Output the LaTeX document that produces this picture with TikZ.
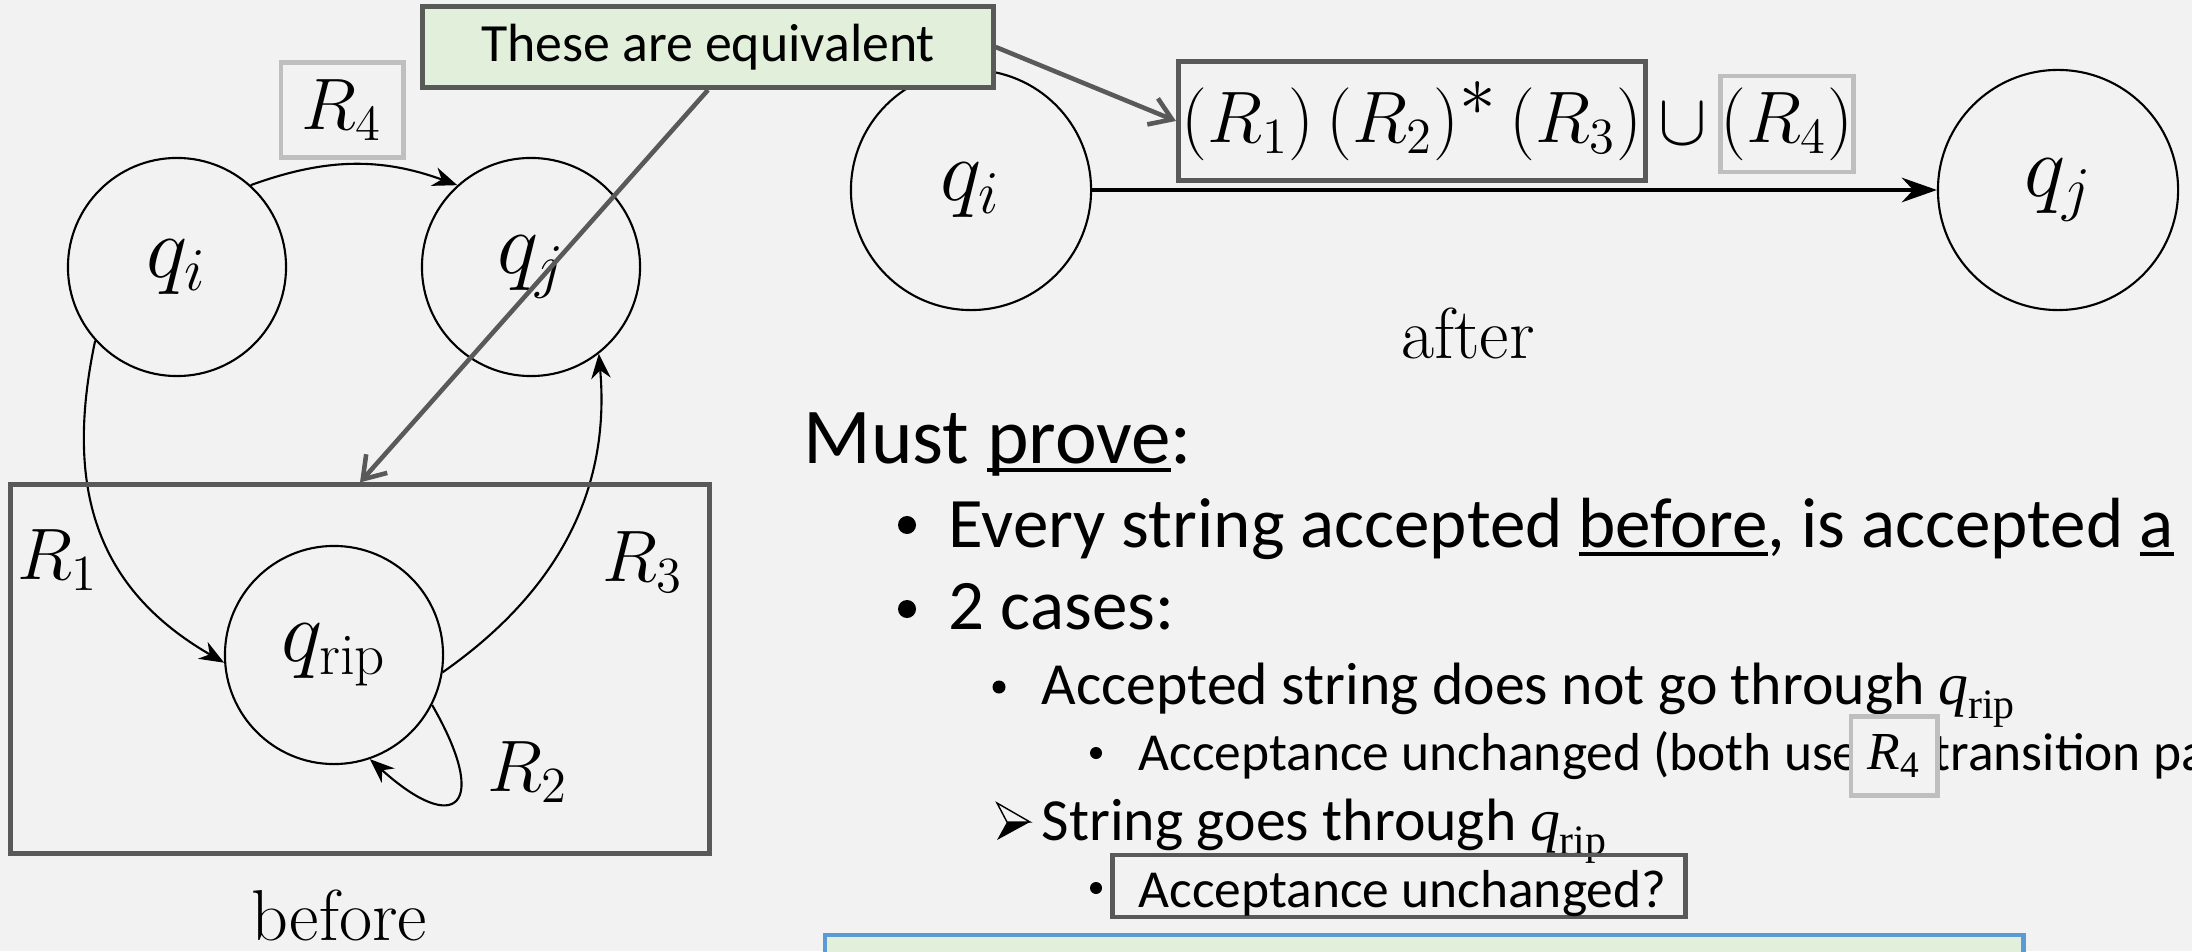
\documentclass[tikz,border=0pt]{standalone}
\usepackage{amsmath}
\usepackage{fontspec}
\newfontfamily\slidefont{Carlito}
\newfontfamily\timesfont{Liberation Serif}
\usepackage{tikz}
\usetikzlibrary{arrows.meta,positioning,calc}

\definecolor{slidebg}{HTML}{F2F2F2}
\definecolor{boxgray}{HTML}{595959}
\definecolor{hilite}{HTML}{BFBFBF}
\definecolor{notegreen}{HTML}{E2EFDA}
\definecolor{noteblue}{HTML}{5B9BD5}

% underline that sits just below the baseline
\newcommand{\undl}[1]{\sbox0{#1}\rlap{\rule[-0.12em]{\wd0}{0.055em}}\usebox0}
\newcommand{\qrip}{$\text{\timesfont\itshape q}_{\text{\timesfont rip}}$}
\newcommand{\Rfour}{$\text{\timesfont\itshape R}_{\text{\timesfont 4}}$}

\begin{document}
\begin{tikzpicture}[x=0.01cm, y=0.01cm,
    state/.style={circle, draw, line width=0.6pt, minimum size=2.18cm, inner sep=0pt, font=\fontsize{24}{24}\selectfont},
    bigstate/.style={state, minimum size=2.4cm, font=\fontsize{25.5}{25.5}\selectfont},
    trans/.style={line width=0.6pt, -{Stealth[length=7pt,width=5.5pt]}},
    edgelab/.style={font=\fontsize{21.5}{21.5}\selectfont, inner sep=0pt},
    caption/.style={font=\fontsize{20.5}{20.5}\selectfont, inner sep=0pt, anchor=base},
    exprfont/.style={font=\fontsize{19.3}{19.3}\selectfont},
    darkbox/.style={draw=boxgray, line width=1.4pt},
    greybox/.style={draw=hilite, line width=1.4pt},
    pointer/.style={draw=boxgray, line width=1.3pt, -{Straight Barb[length=6pt,width=8pt]}},
    slidetext/.style={font=\slidefont\fontsize{#1}{#1}\selectfont, inner sep=0pt, anchor=base west},
    bulletdot/.style={circle, fill, inner sep=0pt, minimum size=#1}
  ]
  \useasboundingbox (0,0) rectangle (2192,951);
  \clip (0,0) rectangle (2192,951);
  \fill[slidebg] (0,0) rectangle (2192,951);

  % before
  \node[state] (qi) at (177,684) {$q_i$};
  \node[state] (qj) at (531,684) {$q_j$};
  \node[state] (qrip) at (334,296) {$q_{\text{rip}}$};

  \draw[trans] (qi.48) to[bend left=20] (qj.132);
  \node[greybox, edgelab, minimum width=1.22cm, minimum height=0.95cm] (r4) at (342,841) {$R_4$};
  \draw[trans] (qi.222) to[out=258,in=150,looseness=1.1] (qrip.184);
  \draw[trans] (qrip.351) to[out=35,in=275] (qj.308);
  \draw[trans] (qrip.333) to[out=-60,in=-42,looseness=3.6] (qrip.289);
  \node[edgelab] (r1) at (58,391) {$R_1$};
  \node[edgelab] (r3) at (643,389) {$R_3$};
  \node[edgelab] (r2) at (528,179) {$R_2$};

  \node[darkbox, minimum width=6.98cm, minimum height=3.68cm] (ripbox) at (360,282) {};
  \node[caption] (before) at (339,11) {before};

  % after
  \node[bigstate] (qiA) at (971,761) {$q_i$};
  \node[bigstate] (qjA) at (2058,761) {$q_j$};
  \draw[line width=0.9pt, -{Stealth[length=10pt,width=7pt]}] (qiA) -- (qjA);
  \node[darkbox, exprfont, minimum width=4.67cm, minimum height=1.19cm, inner sep=0pt] (expr) at (1412,830) {$(R_1)\,(R_2)^{\textstyle *}\,(R_3)$};
  \node[exprfont, inner sep=0pt] (cup) at (1683,827) {$\cup$};
  \node[greybox, exprfont, minimum width=1.25cm, minimum height=0.96cm, inner sep=0pt] (r4A) at (1787,827) {$(R_4)$};
  \node[caption] (after) at (1468,593) {after};

  % note with pointers
  \node[draw=boxgray, fill=notegreen, line width=1.4pt, minimum width=5.7cm, minimum height=0.81cm,
    font=\slidefont\fontsize{15.3}{15.3}\selectfont] (equiv) at (708,904) {These are equivalent};
  \draw[pointer] (equiv.south) -- (ripbox.north);
  \draw[pointer] (equiv.east) -- (expr.west);

  % proof outline
  \node[slidetext=22.5] (must) at (803,488) {Must \undl{prove}:};
  \node[bulletdot=0.18cm] (b1) at (907,426) {};
  \node[slidetext=20.2] (line1) at (948,404) {Every string accepted \undl{before}, is accepted \undl{a}};
  \node[bulletdot=0.18cm] (b2) at (907,342) {};
  \node[slidetext=20.2] (line2) at (948,322) {2 cases:};
  \node[bulletdot=0.13cm] (b3) at (999,264) {};
  \node[slidetext=17] (line3) at (1041,247) {Accepted string does not go through \qrip};
  \node[bulletdot=0.12cm] (b4) at (1096,198) {};
  \node[slidetext=15.2] (line4) at (1138,181) {Acceptance unchanged (both use};
  \node[slidetext=15.2] (line4b) at (1932,181) {transition pa};
  \node[greybox, fill=slidebg, minimum width=0.86cm, minimum height=0.79cm, inner sep=0pt,
    font=\fontsize{15.2}{15.2}\selectfont] (r4B) at (1894,195) {\Rfour};
  % arrowhead bullet
  \draw[line width=0.4pt, line join=miter] (997,148) -- (1030,129) -- (1007,129) -- cycle;
  \fill (1007,129) -- (1030,129) -- (997,111) -- cycle;
  \node[slidetext=17] (line5) at (1041,111) {String goes through \qrip};
  \node[bulletdot=0.12cm] (b6) at (1096,63) {};
  \node[darkbox, minimum width=5.72cm, minimum height=0.62cm] (qbox) at (1399,65) {};
  \node[slidetext=15.2] (line6) at (1138,44) {Acceptance unchanged?};

  % box cut off by the slide edge
  \draw[draw=noteblue, fill=notegreen, line width=1.4pt] (825,-30) rectangle (2023,16);
\end{tikzpicture}
\end{document}
